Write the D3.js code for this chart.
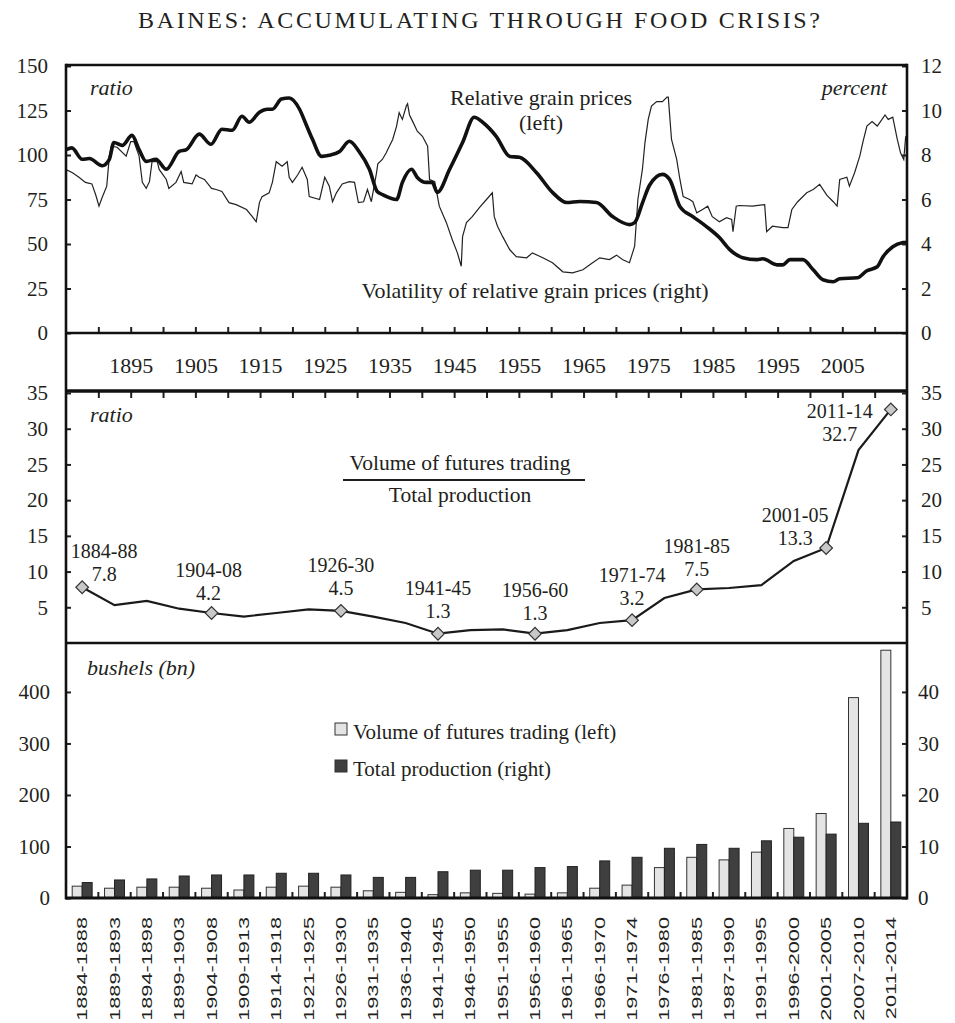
<!DOCTYPE html>
<html>
<head>
<meta charset="utf-8">
<script src="https://cdn.jsdelivr.net/npm/d3@7/dist/d3.min.js"></script>
<style>
  body { margin: 0; background: #fff; }
  text { font-family: "Liberation Serif", "Times New Roman", serif; fill: #231f20; }
</style>
</head>
<body>
<script>
// ---- data ----
// relative grain prices, ratio (left axis), [year, value]
const relPrice = [
  [1885.0,103],[1885.9,104],[1887.5,97.6],[1888.6,98],[1890.6,94],[1891.7,97.6],[1892.4,107],
  [1893.7,105.4],[1895.2,111],[1896.3,103],[1897.4,96.4],[1898.9,97.6],[1900.5,92],[1902.5,102],
  [1903.6,103],[1905.6,111.7],[1907.4,106],[1909.1,114.5],[1910.7,113.9],[1912.2,121.8],
  [1913.3,118.4],[1914.9,124],[1916.1,125.7],[1916.9,125.7],[1918.3,131.4],[1919.5,132],
  [1921.1,125.7],[1922.1,117.3],[1923.1,108.8],[1924.5,99.2],[1925.7,99.8],[1927.3,102],
  [1928.8,107.7],[1930.3,102],[1931.9,92],[1933.1,79.5],[1933.9,77.8],[1936.1,75],[1937,84.6],
  [1938.4,92],[1939.3,87.4],[1940.7,84.6],[1941.6,84.6],[1942.4,79],[1944.3,92],[1946.3,107],
  [1948.1,121.2],[1949.4,118.4],[1951.5,110.5],[1953.6,99.2],[1955.1,98.7],[1957.7,90.2],
  [1960.2,79],[1962.4,73.3],[1964.4,73.9],[1967,73.3],[1969.5,65.4],[1972.1,60.9],[1972.9,62],
  [1974.1,73],[1975.2,83],[1977.2,89.1],[1978.3,86.3],[1979.9,71],[1981.9,65.4],[1984,59.8],
  [1986,53.6],[1987.6,46.8],[1989.6,42.3],[1991.8,41.2],[1992.7,41.7],[1994.9,38.3],[1995.8,38.3],
  [1996.9,41.2],[1998.9,41.2],[2000.5,35.5],[2002,29.9],[2003.6,28.8],[2004.6,30.5],[2007.3,31],
  [2008.8,35],[2010.4,37.2],[2011.3,42.9],[2012.8,48.5],[2014.4,50.8],[2015,51]
];

// volatility of relative grain prices, percent (right axis), [year, value]
const volatility = [
  [1885,7.35],[1886,7.2],[1887,7.0],[1888,6.77],[1889,6.7],[1889.6,6.2],[1890.1,5.7],[1890.6,6.1],
  [1891.3,6.6],[1891.7,7.95],[1892,8.4],[1892.9,8.35],[1894.3,7.95],[1895,8.6],[1895.5,8.6],
  [1896.3,7.95],[1896.8,6.77],[1897.4,6.5],[1897.9,6.8],[1898.3,7.7],[1899.1,7.7],[1899.4,7.35],
  [1900.5,6.9],[1900.9,6.5],[1902,6.77],[1902.8,7.26],[1903.2,6.77],[1904.5,6.7],[1905.1,7.1],
  [1905.6,7.0],[1906.4,6.9],[1907.5,6.5],[1908.2,6.45],[1909.1,6.36],[1910.2,5.86],[1911.3,5.77],
  [1912.9,5.55],[1913.8,5.23],[1914.4,5.0],[1914.9,5.86],[1915.3,6.13],[1916.4,6.3],[1916.9,6.77],
  [1917.5,7.7],[1918.4,7.5],[1919.2,7.7],[1919.5,7.0],[1920,6.77],[1920.8,7.1],[1921.5,7.45],
  [1922.3,6.9],[1922.6,6.13],[1924.2,6.0],[1925,7.0],[1925.7,6.6],[1926.2,5.9],[1926.8,6.3],
  [1927.7,6.7],[1928.8,6.8],[1929.6,6.77],[1930.2,5.86],[1931,5.9],[1931.6,6.45],[1932.2,5.9],
  [1933,7.2],[1933.2,7.6],[1933.9,7.8],[1934.5,8.1],[1935,8.4],[1935.5,8.7],[1936.1,9.3],
  [1936.5,9.9],[1937,9.6],[1937.6,10.2],[1937.8,10.3],[1938.1,9.8],[1938.6,9.5],[1939.3,9.07],
  [1940.1,8.84],[1940.9,8.4],[1941.2,6.9],[1942,6.8],[1942.7,5.7],[1943.8,4.96],[1944.7,4.2],
  [1945.5,3.6],[1946.1,3.0],[1946.3,4.33],[1946.9,4.96],[1947.8,5.23],[1948.9,5.64],[1950,6.0],
  [1950.9,6.3],[1951.2,5.23],[1951.7,4.8],[1952.5,4.33],[1953.6,3.74],[1954.6,3.43],[1956.2,3.38],
  [1957.1,3.6],[1958.7,3.38],[1960.2,3.16],[1961.8,2.75],[1963.3,2.7],[1964.9,2.84],[1966.4,3.16],
  [1967.5,3.38],[1969,3.3],[1970.1,3.5],[1971,3.3],[1972.1,3.16],[1972.9,3.9],[1973.4,6.0],
  [1974.1,7.35],[1974.5,8.57],[1975,9.6],[1975.5,10.2],[1976.3,10.4],[1977.2,10.4],[1977.9,10.6],
  [1978.1,10.6],[1978.6,8.7],[1979.4,7.8],[1979.9,6.9],[1980.4,6.13],[1981.4,6.0],[1981.9,5.9],
  [1982.5,5.4],[1983.4,5.55],[1984.2,5.7],[1984.9,5.23],[1986,5.0],[1987.1,5.18],[1987.9,5.1],
  [1988.1,4.55],[1988.6,5.7],[1989.1,5.73],[1991.1,5.7],[1993,5.77],[1993.3,4.55],[1994.2,4.8],
  [1995.8,4.74],[1996.6,4.74],[1997.2,5.55],[1998.1,5.9],[1999.5,6.3],[2000.5,6.45],[2001.5,6.68],
  [2002.6,6.2],[2003.6,5.9],[2004.2,5.7],[2004.6,6.9],[2005.7,7.0],[2006.1,6.6],[2006.9,7.2],
  [2007.7,7.95],[2008.2,8.6],[2008.8,9.3],[2009.6,9.5],[2010.4,9.3],[2010.9,9.5],[2011.6,9.8],
  [2012.1,9.6],[2012.8,9.7],[2013.5,8.7],[2014,8.1],[2014.5,7.8],[2014.8,8.84]
];

const stripYears = [1895, 1905, 1915, 1925, 1935, 1945, 1955, 1965, 1975, 1985, 1995, 2005];

const periods = [
  "1884-1888","1889-1893","1894-1898","1899-1903","1904-1908","1909-1913","1914-1918",
  "1921-1925","1926-1930","1931-1935","1936-1940","1941-1945","1946-1950","1951-1955",
  "1956-1960","1961-1965","1966-1970","1971-1974","1976-1980","1981-1985","1987-1990",
  "1991-1995","1996-2000","2001-2005","2007-2010","2011-2014"
];
// bushels (bn)
const futuresVolume   = [23,19,21,21,19,15.5,21,23,21,14,11,6.5,10,9,7.5,10,19,25,59,79,74,89,135,164,389,481];
const totalProduction = [3.0,3.5,3.7,4.27,4.47,4.47,4.8,4.8,4.47,4.0,4.0,5.1,5.4,5.4,5.9,6.1,7.2,7.9,9.65,10.4,9.65,11.1,11.8,12.4,14.5,14.75];
// ratio volume / production
const futuresRatio    = [7.8,5.3,5.9,4.8,4.2,3.7,4.2,4.7,4.5,3.7,2.8,1.3,1.8,1.9,1.3,1.8,2.8,3.2,6.3,7.5,7.7,8.1,11.5,13.3,27.0,32.7];

const markedIdx    = [0, 4, 8, 11, 14, 17, 19, 23, 25];
const markedLabels = ["1884-88","1904-08","1926-30","1941-45","1956-60","1971-74","1981-85","2001-05","2011-14"];
// label placement relative to the diamond (layout only)
const markOffsets  = [[22,-6],[-3,-13],[0,-16],[0,-16],[0,-14],[0,-15],[0,-13],[-31,-3],[-51,32]];

// ---- layout ----
const width = 955, height = 1023;
const L = 66, R = 907;
const topY0 = 65, topY1 = 333, stripY1 = 391, midY1 = 643, botY1 = 898;
const ink = "#231f20";

const svg = d3.select("body").append("svg")
  .attr("width", width).attr("height", height);

// title
svg.append("text")
  .attr("x", 479).attr("y", 28)
  .attr("text-anchor", "middle")
  .attr("font-size", 24)
  .attr("textLength", 682).attr("lengthAdjust", "spacing")
  .text("BAINES: ACCUMULATING THROUGH FOOD CRISIS?");

// scales
const x = d3.scaleLinear().domain([1885, 2015]).range([L, R]);
const yPrice = d3.scaleLinear().domain([0, 150]).range([topY1, 66]);
const yVol = d3.scaleLinear().domain([0, 12]).range([topY1, 66]);
const xb = d3.scaleBand().domain(periods).range([L, R]);
const bw = xb.bandwidth();
const xs = d3.scaleBand().domain(["fut", "prod"]).range([0, bw]).paddingOuter(0.62);
const yRatio = d3.scaleLinear().domain([0, 35]).range([midY1, 393]);
const yFut = d3.scaleLinear().domain([0, 495]).range([botY1, midY1]);
const yProd = d3.scaleLinear().domain([0, 49.5]).range([botY1, midY1]);

function styleAxis(g, size) {
  g.select(".domain").remove();
  g.attr("font-size", size).attr("font-family", null);
  g.selectAll("line").attr("stroke", ink).attr("stroke-width", 2);
}

function sideAxes(yl, yr, leftTicks, rightTicks) {
  svg.append("g").attr("transform", `translate(${L},0)`)
    .call(d3.axisLeft(yl).tickValues(leftTicks).tickSizeInner(-5).tickSizeOuter(0).tickPadding(18))
    .call(g => styleAxis(g, 21));
  svg.append("g").attr("transform", `translate(${R},0)`)
    .call(d3.axisRight(yr).tickValues(rightTicks).tickSizeInner(-5).tickSizeOuter(0).tickPadding(14))
    .call(g => styleAxis(g, 21));
}

// ---- top panel ----
svg.append("clipPath").attr("id", "clipTop")
  .append("rect").attr("x", L).attr("y", topY0).attr("width", R - L).attr("height", topY1 - topY0);

const topG = svg.append("g").attr("clip-path", "url(#clipTop)");

topG.append("path")
  .datum(volatility)
  .attr("fill", "none").attr("stroke", "#222").attr("stroke-width", 1.2)
  .attr("d", d3.line().x(d => x(d[0])).y(d => yVol(d[1])));

topG.append("path")
  .datum(relPrice)
  .attr("fill", "none").attr("stroke", "#111").attr("stroke-width", 3.6)
  .attr("stroke-linejoin", "round")
  .attr("d", d3.line().x(d => x(d[0])).y(d => yPrice(d[1])).curve(d3.curveMonotoneX));

sideAxes(yPrice, yVol, [0, 25, 50, 75, 100, 125, 150], [0, 2, 4, 6, 8, 10, 12]);

// year ticks on top panel bottom and mid panel top
svg.append("g").attr("transform", `translate(0,${topY1})`)
  .call(d3.axisBottom(x).tickValues(d3.range(1890, 2015, 5)).tickSizeInner(-6).tickSizeOuter(0).tickFormat(""))
  .call(g => styleAxis(g, 21));
svg.append("g").attr("transform", `translate(0,${stripY1})`)
  .call(d3.axisTop(x).tickValues(d3.range(1890, 2015, 5)).tickSizeInner(-7).tickSizeOuter(0).tickFormat(""))
  .call(g => styleAxis(g, 21));

// year labels in the strip
svg.append("g").attr("transform", `translate(0,${topY1})`)
  .call(d3.axisBottom(x).tickValues(stripYears).tickSize(0).tickPadding(24.5).tickFormat(d3.format("d")))
  .call(g => styleAxis(g, 22));

svg.append("text").attr("x", 90).attr("y", 95)
  .attr("font-size", 22).attr("font-style", "italic").text("ratio");
svg.append("text").attr("x", 887).attr("y", 95).attr("text-anchor", "end")
  .attr("font-size", 22).attr("font-style", "italic").text("percent");
svg.append("text").attr("x", 541).attr("y", 105).attr("text-anchor", "middle")
  .attr("font-size", 22).text("Relative grain prices");
svg.append("text").attr("x", 541).attr("y", 130).attr("text-anchor", "middle")
  .attr("font-size", 22).text("(left)");
svg.append("text").attr("x", 535).attr("y", 298).attr("text-anchor", "middle")
  .attr("font-size", 22).text("Volatility of relative grain prices (right)");

// ---- middle panel: ratio ----
sideAxes(yRatio, yRatio, [5, 10, 15, 20, 25, 30, 35], [5, 10, 15, 20, 25, 30, 35]);

const mid = periods.map((p, i) => ({ p: p, v: futuresRatio[i] }));
svg.append("path")
  .datum(mid)
  .attr("fill", "none").attr("stroke", "#1a1a1a").attr("stroke-width", 2.2)
  .attr("d", d3.line().x(d => xb(d.p) + bw / 2).y(d => yRatio(d.v)));

const marks = svg.append("g").selectAll("g")
  .data(markedIdx.map((idx, k) => ({ i: idx, label: markedLabels[k], off: markOffsets[k] })))
  .enter().append("g")
  .attr("transform", d => `translate(${xb(periods[d.i]) + bw / 2},${yRatio(futuresRatio[d.i])})`);

marks.append("path")
  .attr("d", d3.symbol(d3.symbolSquare, 80))
  .attr("transform", "rotate(45)")
  .attr("fill", "#c8c8c8").attr("stroke", "#333").attr("stroke-width", 1.2);

marks.append("text")
  .attr("x", d => d.off[0]).attr("y", d => d.off[1] - 23)
  .attr("text-anchor", "middle").attr("font-size", 20)
  .text(d => d.label);
marks.append("text")
  .attr("x", d => d.off[0]).attr("y", d => d.off[1])
  .attr("text-anchor", "middle").attr("font-size", 20)
  .text(d => futuresRatio[d.i].toFixed(1));

svg.append("text").attr("x", 90).attr("y", 422)
  .attr("font-size", 22).attr("font-style", "italic").text("ratio");
svg.append("text").attr("x", 460).attr("y", 470).attr("text-anchor", "middle")
  .attr("font-size", 21.5).text("Volume of futures trading");
svg.append("line").attr("x1", 343).attr("x2", 585).attr("y1", 480).attr("y2", 480)
  .attr("stroke", ink).attr("stroke-width", 2);
svg.append("text").attr("x", 460).attr("y", 502).attr("text-anchor", "middle")
  .attr("font-size", 21.5).text("Total production");

// ---- bottom panel: bars ----
const bars = svg.append("g").selectAll("g")
  .data(periods)
  .enter().append("g")
  .attr("transform", d => `translate(${xb(d)},0)`);

bars.append("rect")
  .attr("x", xs("fut")).attr("width", xs.bandwidth())
  .attr("y", (d, i) => yFut(futuresVolume[i]))
  .attr("height", (d, i) => botY1 - yFut(futuresVolume[i]))
  .attr("fill", "#e4e4e4").attr("stroke", "#333").attr("stroke-width", 1);

bars.append("rect")
  .attr("x", xs("prod")).attr("width", xs.bandwidth())
  .attr("y", (d, i) => yProd(totalProduction[i]))
  .attr("height", (d, i) => botY1 - yProd(totalProduction[i]))
  .attr("fill", "#3f3f3f").attr("stroke", "#222").attr("stroke-width", 1);

// category boundary ticks
svg.append("g").selectAll("line")
  .data(periods.slice(1))
  .enter().append("line")
  .attr("x1", d => xb(d)).attr("x2", d => xb(d))
  .attr("y1", botY1).attr("y2", botY1 - 6)
  .attr("stroke", ink).attr("stroke-width", 2);

svg.append("g").attr("transform", `translate(${L},0)`)
  .call(d3.axisLeft(yFut).tickValues([0, 100, 200, 300, 400]).tickSizeInner(-5).tickSizeOuter(0).tickPadding(16))
  .call(g => styleAxis(g, 21));
svg.append("g").attr("transform", `translate(${R},0)`)
  .call(d3.axisRight(yProd).tickValues([0, 10, 20, 30, 40]).tickSizeInner(-5).tickSizeOuter(0).tickPadding(11))
  .call(g => styleAxis(g, 21));

// rotated category labels
svg.append("g").attr("transform", `translate(0,${botY1})`)
  .call(d3.axisBottom(xb).tickSize(0))
  .call(g => g.select(".domain").remove())
  .call(g => g.selectAll("text")
    .attr("x", -12.3).attr("y", 0).attr("dy", "0.36em")
    .attr("text-anchor", "end")
    .attr("transform", "rotate(-90) scale(1.55,1)")
    .style("font-family", "'Liberation Sans', Arial, sans-serif")
    .style("font-size", "14px"));

svg.append("text").attr("x", 87).attr("y", 675)
  .attr("font-size", 22).attr("font-style", "italic").text("bushels (bn)");

// legend
const legend = svg.append("g").attr("transform", "translate(335,723)");
[["Volume of futures trading (left)", "#e4e4e4"], ["Total production (right)", "#3f3f3f"]]
  .forEach((item, k) => {
    legend.append("rect").attr("x", 0).attr("y", k * 37).attr("width", 12).attr("height", 12)
      .attr("fill", item[1]).attr("stroke", "#333").attr("stroke-width", 1);
    legend.append("text").attr("x", 18).attr("y", k * 37 + 16)
      .attr("font-size", 21).text(item[0]);
  });

// ---- frame ----
const frame = svg.append("g").attr("stroke", "#111").attr("fill", "none");
[topY0, topY1, midY1].forEach(yy => {
  frame.append("line").attr("x1", L).attr("x2", R).attr("y1", yy).attr("y2", yy).attr("stroke-width", 2.6);
});
frame.append("line").attr("x1", L).attr("x2", R).attr("y1", stripY1).attr("y2", stripY1).attr("stroke-width", 3.6);
frame.append("line").attr("x1", L).attr("x2", R).attr("y1", botY1).attr("y2", botY1).attr("stroke-width", 3);
frame.append("line").attr("x1", L).attr("x2", L).attr("y1", topY0 - 1.3).attr("y2", botY1 + 1.5).attr("stroke-width", 2.6);
frame.append("line").attr("x1", R).attr("x2", R).attr("y1", topY0 - 1.3).attr("y2", botY1 + 1.5).attr("stroke-width", 2.6);
</script>
</body>
</html>
